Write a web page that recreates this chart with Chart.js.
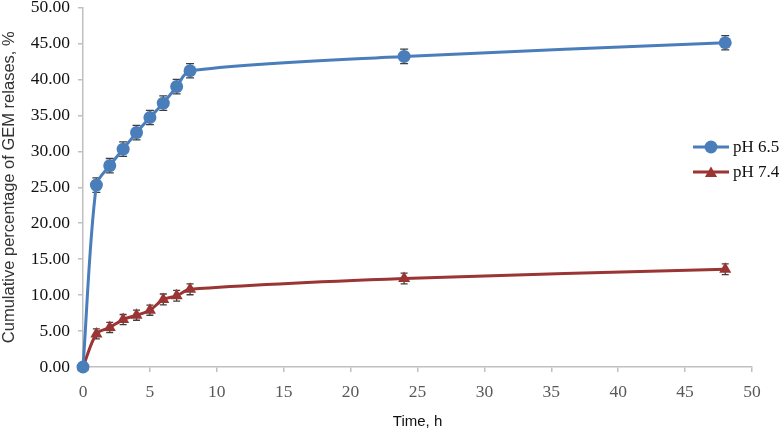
<!DOCTYPE html>
<html>
<head>
<meta charset="utf-8">
<script src="https://cdn.jsdelivr.net/npm/chart.js@4/dist/chart.umd.min.js"></script>
<style>
  html, body { margin: 0; padding: 0; background: #fff; }
  #wrap { width: 779px; height: 435px; }
</style>
</head>
<body>
<div id="wrap"><canvas id="releaseChart"></canvas></div>
<script>
// 时间点 (h)
const hours = [0, 1, 2, 3, 4, 5, 6, 7, 8, 24, 48];
// 累计释放 %
const ph65 = [0.0, 25.3, 28.0, 30.3, 32.6, 34.7, 36.7, 39.0, 41.2, 43.2, 45.1];
const ph74 = [0.0, 4.6, 5.5, 6.6, 7.2, 7.9, 9.4, 9.9, 10.8, 12.3, 13.6];
// 误差 (±)
const err65 = [0.6, 1.0, 1.0, 1.0, 1.0, 1.0, 1.0, 1.0, 1.0, 1.0, 1.0];
const err74 = [0.5, 0.7, 0.7, 0.7, 0.7, 0.7, 0.75, 0.75, 0.75, 0.75, 0.75];
const yTicks = [0, 5, 10, 15, 20, 25, 30, 35, 40, 45, 50];

const blue = '#4a7ebb';
const red = '#9b3533';
const axisGrey = '#c0c0c0';
const serif = "'Liberation Serif', 'DejaVu Serif', serif";
const sans = "'Liberation Sans', Arial, sans-serif";

const toXY = (ys) => hours.map((h, i) => ({ x: h, y: ys[i] }));

// 误差线，画在点的下面
const errorBars = {
  id: 'errorBars',
  beforeDatasetsDraw(chart) {
    const { ctx, scales: { x, y } } = chart;
    const errs = [err65, err74];
    ctx.save();
    ctx.strokeStyle = '#3f3f3f';
    ctx.lineWidth = 1.3;
    chart.data.datasets.forEach((ds, d) => {
      ds.data.forEach((p, i) => {
        const px = x.getPixelForValue(p.x);
        const top = y.getPixelForValue(p.y + errs[d][i]);
        const bot = y.getPixelForValue(p.y - errs[d][i]);
        const cap = d === 0 ? 4 : 3.5;
        ctx.beginPath();
        ctx.moveTo(px, top); ctx.lineTo(px, bot);
        ctx.moveTo(px - cap, top); ctx.lineTo(px + cap, top);
        ctx.moveTo(px - cap, bot); ctx.lineTo(px + cap, bot);
        ctx.stroke();
      });
    });
    ctx.restore();
  }
};

// 右侧图例（线 + 标记）
const sideLegend = {
  id: 'sideLegend',
  afterDraw(chart) {
    const { ctx } = chart;
    const items = [
      { label: 'pH 6.5', color: blue, style: 'circle', r: 6.5 },
      { label: 'pH 7.4', color: red, style: 'triangle', r: 7 }
    ];
    ctx.save();
    items.forEach((it, i) => {
      const yy = 147 + i * 25;
      ctx.strokeStyle = it.color;
      ctx.lineWidth = 3;
      ctx.beginPath();
      ctx.moveTo(693, yy); ctx.lineTo(729, yy);
      ctx.stroke();
      ctx.fillStyle = it.color;
      Chart.helpers.drawPoint(ctx, { pointStyle: it.style, radius: it.r, borderWidth: 0 }, 711, it.style === 'triangle' ? yy + 1.5 : yy);
      ctx.fillStyle = '#111';
      ctx.font = '17px ' + serif;
      ctx.textBaseline = 'middle';
      ctx.fillText(it.label, 733, yy + 1);
    });
    ctx.restore();
  }
};

new Chart(document.getElementById('releaseChart'), {
  type: 'line',
  data: {
    datasets: [
      {
        label: 'pH 6.5',
        data: toXY(ph65),
        borderColor: blue,
        backgroundColor: blue,
        borderWidth: 3,
        pointStyle: 'circle',
        pointRadius: 6.5,
        pointBorderWidth: 0,
        tension: 0.3,
        clip: false
      },
      {
        label: 'pH 7.4',
        data: toXY(ph74),
        borderColor: red,
        backgroundColor: red,
        borderWidth: 3,
        pointStyle: 'triangle',
        pointRadius: 7,
        pointBorderWidth: 0,
        tension: 0.3,
        clip: false
      }
    ]
  },
  options: {
    responsive: true,
    maintainAspectRatio: false,
    animation: false,
    layout: { padding: { top: 0, right: 27, left: 0, bottom: 0 } },
    scales: {
      x: {
        type: 'linear',
        min: 0, max: 50,
        border: { display: true, color: axisGrey, width: 1.5 },
        grid: { drawOnChartArea: false, drawTicks: true, tickLength: 5, color: axisGrey, lineWidth: 1.5 },
        ticks: { stepSize: 5, color: '#595959', font: { family: serif, size: 17.5 }, padding: 10, maxRotation: 0 },
        title: { display: true, text: 'Time, h', color: '#111', font: { family: sans, size: 15 }, padding: { top: 6 } },
        afterFit(scale) { scale.height = 68; }
      },
      y: {
        min: 0, max: 50,
        afterBuildTicks(scale) { scale.ticks = yTicks.map(v => ({ value: v })); },
        border: { display: true, color: axisGrey, width: 1.5 },
        grid: { drawOnChartArea: false, drawTicks: true, tickLength: 5, color: axisGrey, lineWidth: 1.5 },
        ticks: { color: '#111', font: { family: serif, size: 17.5 }, padding: 8, callback: v => Number(v).toFixed(2) },
        title: { display: true, text: 'Cumulative percentage of GEM relases, %', color: '#333', font: { family: sans, size: 16.5 }, padding: { top: 0, bottom: 0 } },
        afterFit(scale) {
          scale.width = 83;
          scale.paddingTop = 7.5;
        }
      }
    },
    plugins: {
      legend: { display: false },
      tooltip: { enabled: false }
    }
  },
  plugins: [errorBars, sideLegend]
});
</script>
</body>
</html>
